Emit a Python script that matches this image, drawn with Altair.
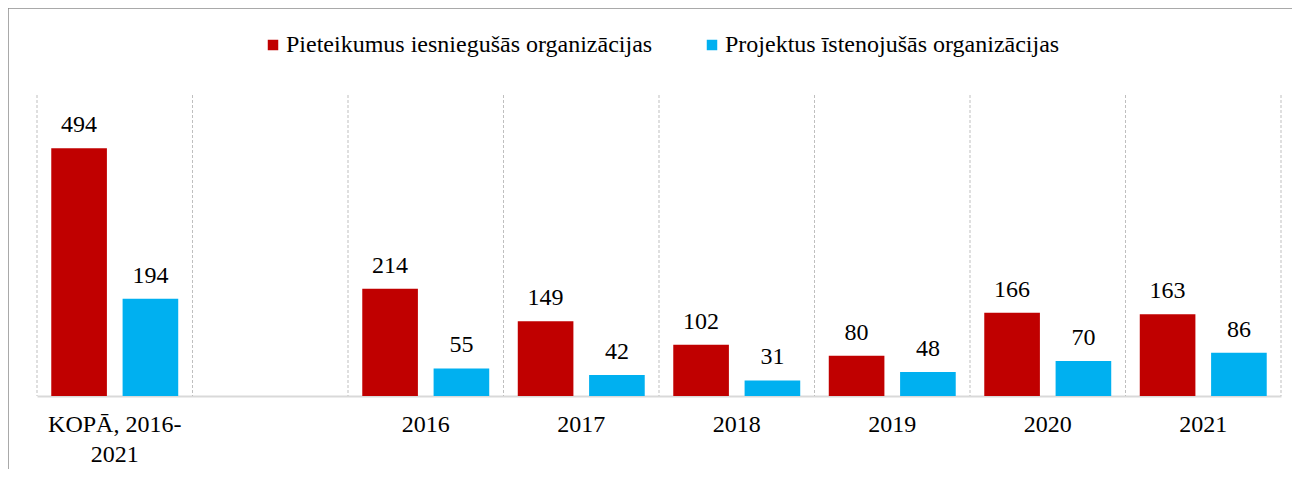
import altair as alt
import pandas as pd

categories = ["KOPĀ, 2016-2021", " ", "2016", "2017", "2018", "2019", "2020", "2021"]
bar_categories = ["KOPĀ, 2016-2021", "2016", "2017", "2018", "2019", "2020", "2021"]
series = ["Pieteikumus iesniegušās organizācijas", "Projektus īstenojušās organizācijas"]
applied = [494, 214, 149, 102, 80, 166, 163]
implemented = [194, 55, 42, 31, 48, 70, 86]
colors = ["#C00000", "#00B0F0"]

rows = []
for c, a, b in zip(bar_categories, applied, implemented):
    rows.append({"cat": c, "series": series[0], "value": a})
    rows.append({"cat": c, "series": series[1], "value": b})
df = pd.DataFrame(rows)
grid_df = pd.DataFrame({"cat": categories})

W, H = 1244, 301
FONT = "Liberation Serif"
FS = 24

xscale = alt.Scale(domain=categories, paddingInner=0, paddingOuter=0)
offscale = alt.Scale(domain=series, paddingInner=0.22, paddingOuter=0.2)

label_expr = "datum.value == 'KOPĀ, 2016-2021' ? ['KOPĀ, 2016-', '2021'] : datum.value"
xaxis = alt.Axis(labelExpr=label_expr, labelAngle=0, labelFont=FONT, labelFontSize=FS,
                 labelColor="black", labelPadding=16, labelLineHeight=30, labelLimit=400,
                 ticks=False, grid=False, domainColor="#d9d9d9", domainWidth=2, title=None)

frame_top = alt.Chart(grid_df.head(1)).mark_rule(color="#8c8c8c", strokeWidth=1.5).encode(
    x=alt.value(-29), x2=alt.value(1255), y=alt.value(-87)
)
frame_left = alt.Chart(grid_df.head(1)).mark_rule(color="#8c8c8c", strokeWidth=1.5).encode(
    x=alt.value(-29), y=alt.value(-87), y2=alt.value(374)
)

grid = alt.Chart(grid_df).mark_rule(color="#bfbfbf", strokeDash=[3, 2], strokeWidth=1).encode(
    x=alt.X("cat:N", scale=xscale, sort=categories, bandPosition=0, axis=xaxis, title=None),
    y=alt.value(0), y2=alt.value(H),
)
right_grid = alt.Chart(grid_df.head(1)).mark_rule(color="#bfbfbf", strokeDash=[3, 2], strokeWidth=1).encode(
    x=alt.value(W), y=alt.value(0), y2=alt.value(H)
)

bars = alt.Chart(df).mark_bar().encode(
    x=alt.X("cat:N", scale=xscale, sort=categories, title=None, axis=xaxis),
    xOffset=alt.XOffset("series:N", scale=offscale, sort=series),
    y=alt.Y("value:Q", scale=alt.Scale(domain=[0, 600]), axis=None),
    color=alt.Color("series:N", scale=alt.Scale(domain=series, range=colors),
                    legend=alt.Legend(title=None, orient="none", direction="horizontal",
                                      legendX=224, legendY=-62, symbolType="square",
                                      symbolSize=110, symbolStrokeWidth=0, labelFont=FONT,
                                      labelFontSize=FS, labelColor="black", labelOffset=1,
                                      columnPadding=47, labelLimit=600)),
)

texts = alt.Chart(df).mark_text(font=FONT, fontSize=FS, color="black", baseline="alphabetic", dy=-16).encode(
    x=alt.X("cat:N", scale=xscale, sort=categories, axis=xaxis),
    xOffset=alt.XOffset("series:N", scale=offscale, sort=series),
    y=alt.Y("value:Q", scale=alt.Scale(domain=[0, 600]), axis=None),
    text=alt.Text("value:Q"),
)

chart = alt.layer(frame_top, frame_left, grid, right_grid, bars, texts).properties(
    width=W, height=H,
    autosize=alt.AutoSizeParams(type="none"),
    padding={"left": 29, "top": 87, "right": 11, "bottom": 73},
).configure(background="white").configure_view(
    strokeOpacity=0, strokeWidth=0
)

chart.save("out.html", embed_options={"renderer": "svg", "actions": False})
